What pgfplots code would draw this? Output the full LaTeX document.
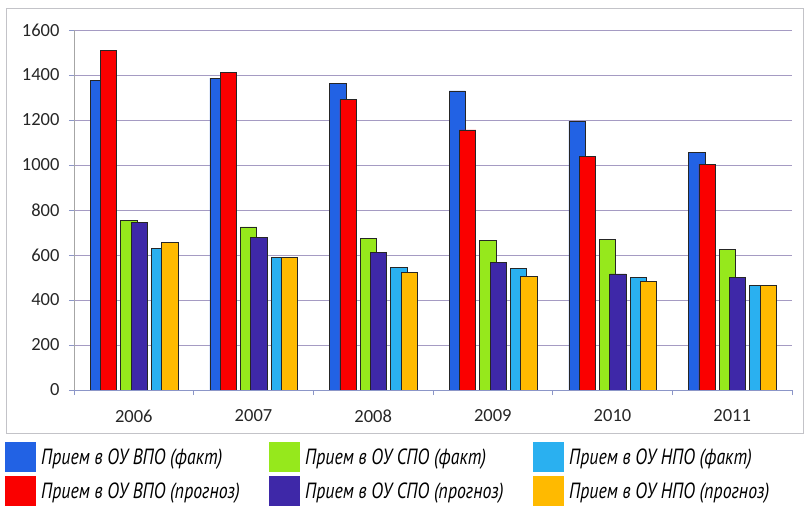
\documentclass[border=0pt]{standalone}
\usepackage{fontspec}
\setmainfont{Carlito}
\newfontfamily\legendfont[FakeStretch=0.81]{PT Sans}
\usepackage{pgfplots}
\pgfplotsset{compat=1.18}

\definecolor{vpoFact}{RGB}{34,98,228}
\definecolor{vpoProg}{RGB}{250,0,0}
\definecolor{spoFact}{RGB}{150,232,28}
\definecolor{spoProg}{RGB}{62,40,168}
\definecolor{npoFact}{RGB}{42,176,240}
\definecolor{npoProg}{RGB}{255,186,0}
\definecolor{gridcol}{RGB}{165,155,195}
\definecolor{axiscol}{RGB}{140,150,200}
\definecolor{framecol}{RGB}{195,195,200}

\pgfplotsset{
  sq/.style={legend image code/.code={\fill[##1,draw=none] (0pt,-15pt) rectangle (31pt,15pt);}},
}

\begin{document}
\begin{tikzpicture}[x=1pt,y=1pt]
\useasboundingbox (0,0) rectangle (806,506);
\draw[framecol, line width=0.8pt] (6,73) rectangle (803,498);
\begin{axis}[
  at={(74pt,116pt)}, anchor=south west,
  scale only axis, width=718pt, height=360pt,
  xmin=-0.5, xmax=5.5, ymin=0, ymax=1600,
  ytick={0,200,...,1600},
  xtick={-0.5,0.5,...,5.5},
  x tick label as interval,
  xticklabels={2006,2007,2008,2009,2010,2011},
  tick align=outside,
  major tick length=5pt,
  tick style={axiscol, line width=0.7pt},
  axis x line*=bottom, axis y line*=left,
  x axis line style={axiscol, line width=0.8pt, -},
  y axis line style={gray!70, line width=0.8pt, -},
  ymajorgrids, grid style={gridcol, line width=0.7pt},
  ticklabel style={font=\fontsize{18.5pt}{18.5pt}\selectfont, text=black!85},
  yticklabel style={xshift=-6pt},
  xticklabel style={yshift=-11pt},
  /pgf/number format/assume math mode=true,
  /pgf/number format/1000 sep={},
  ybar, bar width=16.3pt,
  every axis plot/.append style={draw=black!85, line width=0.6pt},
  legend columns=2, transpose legend,
  legend style={at={(-0.0961,-0.1444)}, anchor=north west, draw=none, fill=none,
    inner sep=0pt, row sep=4pt, column sep=0pt,
    nodes={inner sep=0pt, anchor=west},
    font=\legendfont\itshape\fontsize{22pt}{22pt}\selectfont},
  legend cell align=left,
]
\addplot[fill=vpoFact, bar shift=-35.5pt, sq] coordinates {(0,1375) (1,1386) (2,1362) (3,1329) (4,1195) (5,1057)};
\addlegendentry{\hspace*{5pt}\makebox[228pt][l]{Прием в ОУ ВПО (факт)}}
\addplot[fill=vpoProg, bar shift=-25.2pt, sq] coordinates {(0,1508) (1,1411) (2,1291) (3,1156) (4,1038) (5,1004)};
\addlegendentry{\hspace*{5pt}\makebox[228pt][l]{Прием в ОУ ВПО (прогноз)}}
\addplot[fill=spoFact, bar shift=-4.9pt, sq] coordinates {(0,754) (1,725) (2,673) (3,664) (4,670) (5,625)};
\addlegendentry{\hspace*{5pt}\makebox[228pt][l]{Прием в ОУ СПО (факт)}}
\addplot[fill=spoProg, bar shift=5.4pt, sq] coordinates {(0,744) (1,677) (2,612) (3,566) (4,516) (5,501)};
\addlegendentry{\hspace*{5pt}\makebox[228pt][l]{Прием в ОУ СПО (прогноз)}}
\addplot[fill=npoFact, bar shift=25.7pt, sq] coordinates {(0,630) (1,589) (2,544) (3,541) (4,501) (5,464)};
\addlegendentry{\hspace*{5pt}\makebox[228pt][l]{Прием в ОУ НПО (факт)}}
\addplot[fill=npoProg, bar shift=36pt, sq] coordinates {(0,655) (1,589) (2,522) (3,506) (4,481) (5,464)};
\addlegendentry{\hspace*{5pt}\makebox[228pt][l]{Прием в ОУ НПО (прогноз)}}
\end{axis}
\end{tikzpicture}
\end{document}
